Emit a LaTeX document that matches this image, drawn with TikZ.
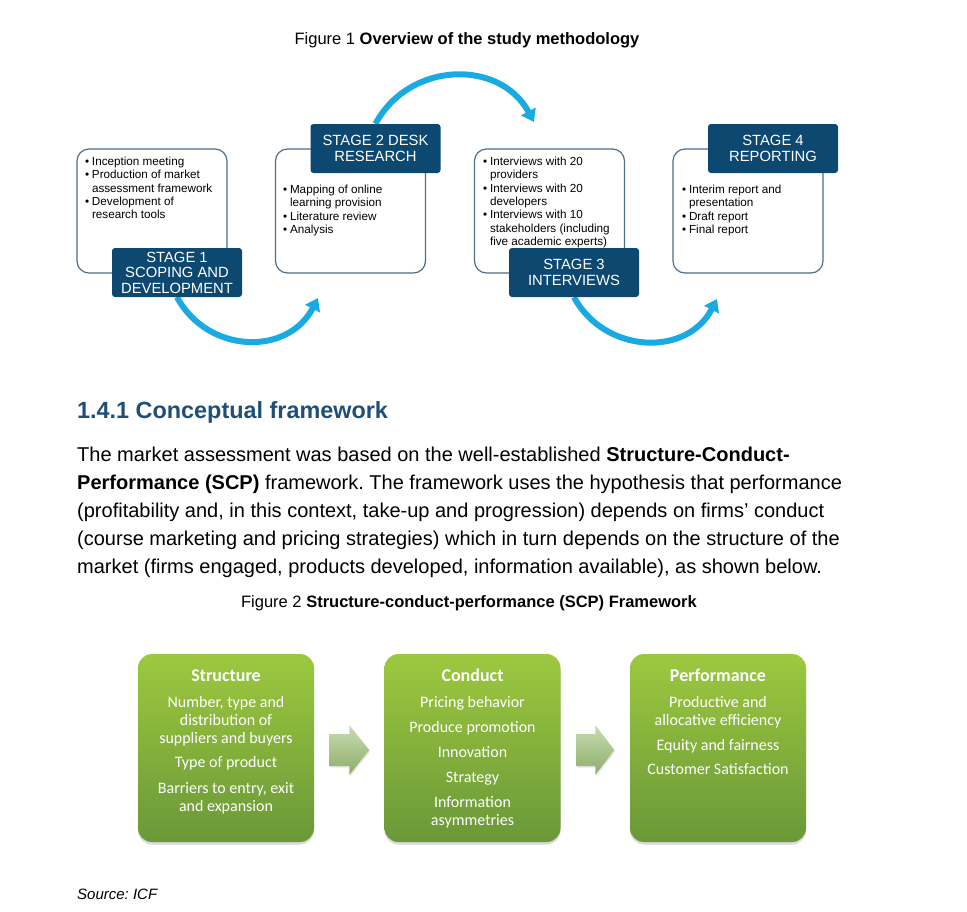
\documentclass[tikz,border=0pt]{standalone}
\usepackage{fontspec}
\setmainfont{Liberation Sans}
\newfontfamily\calibrifont{Carlito}
\usepackage{tikz}
\usetikzlibrary{arrows.meta,shadows,calc,backgrounds}
\newdimen\unitsize
\setlength{\unitsize}{1pt}
\definecolor{stageblue}{HTML}{0C4870}
\definecolor{boxline}{HTML}{4D6F8A}
\definecolor{arcblue}{HTML}{1AAAE2}
\definecolor{headblue}{HTML}{1F4E79}
\definecolor{scptop}{HTML}{9DC83F}
\definecolor{scpbot}{HTML}{6A9838}
\definecolor{gaptop}{HTML}{CADDB2}
\definecolor{gapbot}{HTML}{8CAD69}
\newcommand{\bul}{\makebox[6.8pt][l]{\textbullet}}
\newcommand{\bulgap}{\hspace*{6.8pt}}
\frenchspacing

\begin{document}
\begin{tikzpicture}[x=\unitsize,y=-\unitsize]
\tikzset{stagebox/.style={draw=boxline, line width=1.2pt, rounded corners=12pt, minimum width=150pt, minimum height=124pt, inner sep=0pt}}%
\tikzset{stagelabel/.style={fill=stageblue, rounded corners=3pt, minimum width=130pt, minimum height=49pt, inner sep=0pt, text=white, align=center, font=\fontsize{14.8}{15.4}\selectfont}}%
\tikzset{stagetext/.style={anchor=north west, inner sep=0pt, align=left, font=\fontsize{11.7}{13.4}\selectfont}}%
\tikzset{stagearc/.style={draw=arcblue, line width=6pt, -{Triangle[length=12pt,width=16pt]}}}%
\tikzset{scpbox/.style={rounded corners=14pt, minimum width=176pt, minimum height=188pt, inner sep=0pt, top color=scptop, bottom color=scpbot, drop shadow={shadow xshift=0pt, shadow yshift=-2.5pt, opacity=0.3}}}%
\tikzset{scptitle/.style={anchor=base, inner sep=0pt, text=white, font=\calibrifont\bfseries\fontsize{18}{20}\selectfont}}%
\tikzset{scpbody/.style={anchor=north, inner sep=0pt, text=white, align=center, font=\calibrifont\fontsize{16}{18}\selectfont}}%
\tikzset{gapshade/.style={top color=gaptop, bottom color=gapbot, drop shadow={shadow xshift=1pt, shadow yshift=-1.5pt, opacity=0.2}}}%
\useasboundingbox (0,0) rectangle (967,911);
\node[anchor=base, inner sep=0pt, font=\fontsize{16.5}{20}\selectfont] (fig1) at (467,44) {Figure 1 \textbf{Overview of the study methodology}};
\node[stagebox] (s1box) at (152,211) {};
\node[stagebox] (s2box) at (350.5,211) {};
\node[stagebox] (s3box) at (549.5,211) {};
\node[stagebox] (s4box) at (748,211) {};
\node[stagelabel] (s1lab) at (177,272.5) {STAGE 1\\SCOPING AND\\DEVELOPMENT};
\node[stagelabel] (s2lab) at (375.5,148.5) {STAGE 2 DESK\\RESEARCH};
\node[stagelabel] (s3lab) at (574,272.5) {STAGE 3\\INTERVIEWS};
\node[stagelabel] (s4lab) at (773,148.5) {STAGE 4\\REPORTING};
\node[stagetext] (s1txt) at (85,155) {\rule{0pt}{10pt}\bul Inception meeting\\\bul Production of market\\\bulgap assessment framework\\\bul Development of\\\bulgap research tools};
\node[stagetext] (s2txt) at (283,183) {\rule{0pt}{10pt}\bul Mapping of online\\\bulgap learning provision\\\bul Literature review\\\bul Analysis};
\node[stagetext] (s3txt) at (483,155) {\rule{0pt}{10pt}\bul Interviews with 20\\\bulgap providers\\\bul Interviews with 20\\\bulgap developers\\\bul Interviews with 10\\\bulgap stakeholders (including\\\bulgap five academic experts)};
\node[stagetext] (s4txt) at (682,183) {\rule{0pt}{10pt}\bul Interim report and\\\bulgap presentation\\\bul Draft report\\\bul Final report};
\coordinate (arcend1) at (318,298);
\coordinate (arcend2) at (534,122);
\coordinate (arcend3) at (717,299);
\begin{scope}[on background layer]
\draw[stagearc] (s1lab.south) .. controls +(31,57) and +(-30,58) .. (arcend1);
\draw[stagearc] (s2lab.north) .. controls +(34,-63) and +(-34,-63) .. (arcend2);
\draw[stagearc] (s3lab.south) .. controls +(31,57) and +(-30,58) .. (arcend3);
\end{scope}
\node[anchor=base west, inner sep=0pt, text=headblue, font=\bfseries\fontsize{23.4}{28}\selectfont] (heading) at (77,418) {1.4.1 Conceptual framework};
\node[anchor=north west, inner sep=0pt, align=left, font=\fontsize{20}{28}\selectfont] (para) at (77,445.5) {\rule{0pt}{16pt}The market assessment was based on the well-established \textbf{Structure-Conduct-}\\\textbf{Performance (SCP)} framework. The framework uses the hypothesis that performance\\(profitability and, in this context, take-up and progression) depends on firms’ conduct\\(course marketing and pricing strategies) which in turn depends on the structure of the\\market (firms engaged, products developed, information available), as shown below.};
\node[anchor=base, inner sep=0pt, font=\fontsize{16.5}{20}\selectfont] (fig2) at (469,607) {Figure 2 \textbf{Structure-conduct-performance (SCP) Framework}};
\node[scpbox] (structure) at (226,748) {};
\node[scpbox] (conduct) at (472.5,748) {};
\node[scpbox] (performance) at (718,748) {};
\node[scptitle] (structuretitle) at (226,681) {Structure};
\node[scptitle] (conducttitle) at (472.5,681) {Conduct};
\node[scptitle] (performancetitle) at (718,681) {Performance};
\node[scpbody] (structurebody) at (226,694) {\rule{0pt}{13pt}Number, type and\\distribution of\\suppliers and buyers\\[6pt]Type of product\\[8pt]Barriers to entry, exit\\and expansion};
\node[scpbody] (conductbody) at (472.5,694) {\rule{0pt}{13pt}Pricing behavior\\[7pt]Produce promotion\\[7pt]Innovation\\[7pt]Strategy\\[7pt]Information\\asymmetries};
\node[scpbody] (performancebody) at (718,694) {\rule{0pt}{13pt}Productive and\\allocative efficiency\\[7pt]Equity and fairness\\[6pt]Customer Satisfaction};
\coordinate (gap1) at ($(structure.east)!0.5!(conduct.west)+(0,2)$);
\coordinate (gap2) at ($(conduct.east)!0.5!(performance.west)+(0,2)$);
\shade[gapshade] ($(gap1)+(-20,-16)$) -- ++(20,0) -- ++(0,-9) -- ++(20,25) -- ++(-20,25) -- ++(0,-9) -- ++(-20,0) -- cycle;
\shade[gapshade] ($(gap2)+(-19,-16)$) -- ++(19,0) -- ++(0,-9) -- ++(19,25) -- ++(-19,25) -- ++(0,-9) -- ++(-19,0) -- cycle;
\node[anchor=base west, inner sep=0pt, font=\itshape\fontsize{15}{18}\selectfont] (source) at (77,899) {Source: ICF};
\end{tikzpicture}
\end{document}
